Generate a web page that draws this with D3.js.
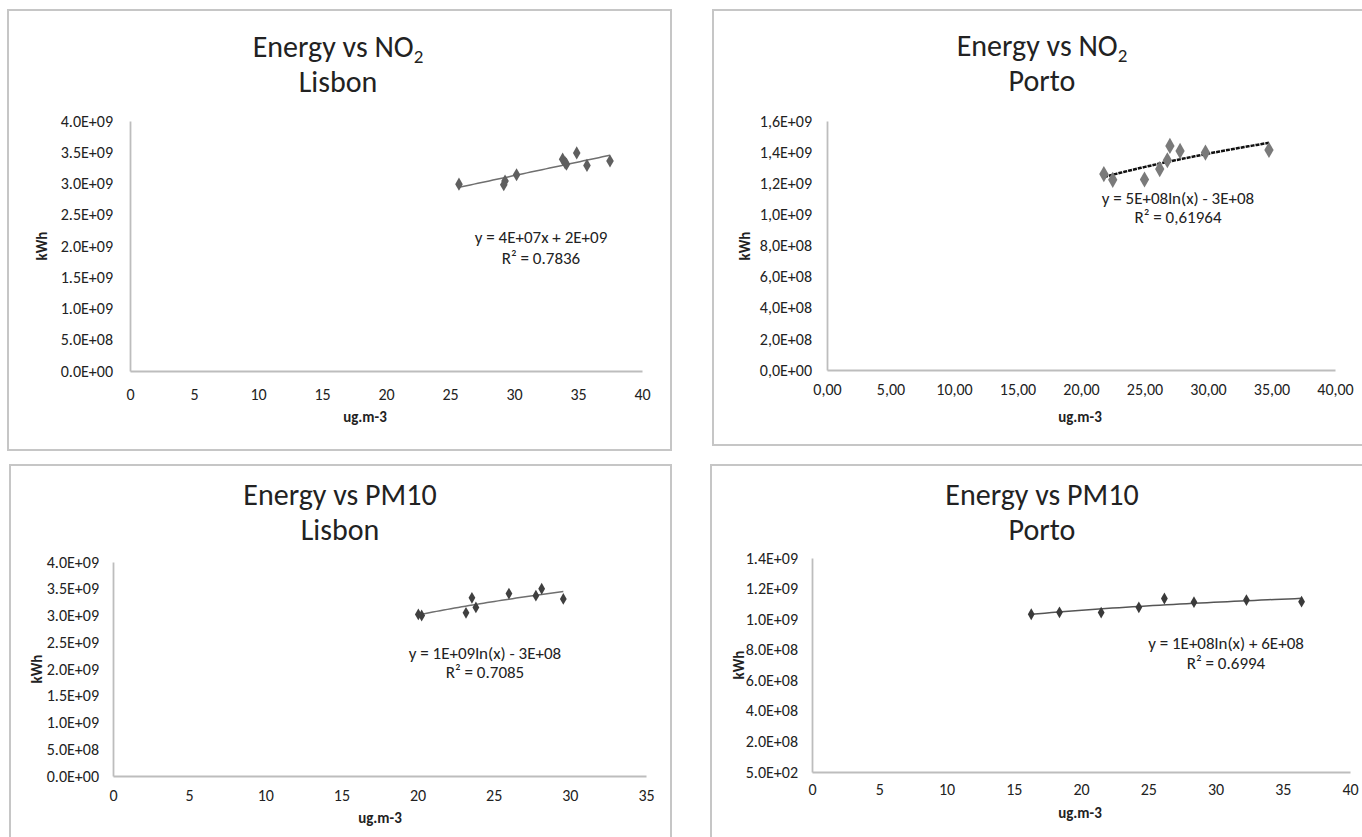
<!DOCTYPE html>
<html>
<head>
<meta charset="utf-8">
<script src="https://cdn.jsdelivr.net/npm/d3@7"></script>
<style>
  body { margin: 0; background: #fff; }
  svg text { font-family: Carlito, "Liberation Sans Narrow", "Open Sans", sans-serif; fill: #222; }
</style>
</head>
<body>
<div id="chart"></div>
<script>
// ---- data ----
// Energy vs NO2, Lisbon
const lisbonNO2X = [25.7, 29.2, 29.3, 30.2, 33.8, 34.0, 34.1, 34.9, 35.7, 37.5];
const lisbonNO2Kwh = [2.99e9, 2.98e9, 3.04e9, 3.14e9, 3.39e9, 3.33e9, 3.31e9, 3.49e9, 3.29e9, 3.36e9];
// Energy vs NO2, Porto
const portoNO2X = [21.8, 22.5, 25.0, 26.2, 26.8, 27.0, 27.8, 29.8, 34.8];
const portoNO2Kwh = [1.259e9, 1.222e9, 1.224e9, 1.291e9, 1.348e9, 1.44e9, 1.408e9, 1.397e9, 1.414e9];
// Energy vs PM10, Lisbon
const lisbonPM10X = [20.05, 20.27, 23.18, 23.57, 23.83, 26.0, 27.77, 28.15, 29.57];
const lisbonPM10Kwh = [3.02e9, 3.0e9, 3.05e9, 3.33e9, 3.15e9, 3.41e9, 3.37e9, 3.5e9, 3.31e9];
// Energy vs PM10, Porto
const portoPM10X = [16.3, 18.4, 21.5, 24.3, 26.2, 28.4, 32.3, 36.4];
const portoPM10Kwh = [1.032e9, 1.045e9, 1.043e9, 1.077e9, 1.135e9, 1.111e9, 1.125e9, 1.114e9];

// tick labels
const yTicksLisbon = [0, 5e8, 1e9, 1.5e9, 2e9, 2.5e9, 3e9, 3.5e9, 4e9];
const yLabelsLisbon = ["0.0E+00", "5.0E+08", "1.0E+09", "1.5E+09", "2.0E+09", "2.5E+09", "3.0E+09", "3.5E+09", "4.0E+09"];
const yTicksPortoNO2 = [0, 2e8, 4e8, 6e8, 8e8, 1e9, 1.2e9, 1.4e9, 1.6e9];
const yLabelsPortoNO2 = ["0,0E+00", "2,0E+08", "4,0E+08", "6,0E+08", "8,0E+08", "1,0E+09", "1,2E+09", "1,4E+09", "1,6E+09"];
const yTicksPortoPM10 = [0, 2e8, 4e8, 6e8, 8e8, 1e9, 1.2e9, 1.4e9];
const yLabelsPortoPM10 = ["5.0E+02", "2.0E+08", "4.0E+08", "6.0E+08", "8.0E+08", "1.0E+09", "1.2E+09", "1.4E+09"];
const xTicks40 = [0, 5, 10, 15, 20, 25, 30, 35, 40];
const xLabelsComma = ["0,00", "5,00", "10,00", "15,00", "20,00", "25,00", "30,00", "35,00", "40,00"];
const xTicks35 = [0, 5, 10, 15, 20, 25, 30, 35];

const svg = d3.select("#chart").append("svg")
    .attr("width", 1362)
    .attr("height", 837);

// least squares fits, the way the spreadsheet trendline does it
function fitLinear(xs, ys) {
    const mx = d3.mean(xs), my = d3.mean(ys);
    let sxy = 0, sxx = 0;
    xs.forEach((x, i) => { sxy += (x - mx) * (ys[i] - my); sxx += (x - mx) * (x - mx); });
    const a = sxy / sxx;
    return x => a * x + (my - a * mx);
}
function fitLog(xs, ys) {
    const f = fitLinear(xs.map(Math.log), ys);
    return x => f(Math.log(x));
}

function drawPanel(p) {
    // frame
    svg.append("rect")
       .attr("x", p.frame[0]).attr("y", p.frame[1])
       .attr("width", p.frame[2]).attr("height", p.frame[3])
       .attr("fill", "none")
       .attr("stroke", "#c6c6c6")
       .attr("stroke-width", 2);

    // title, two lines
    const t1 = svg.append("text")
       .attr("x", p.titleX).attr("y", p.titleY)
       .attr("text-anchor", "middle")
       .style("font-size", "30px");
    t1.append("tspan").text(p.title);
    if (p.sub) {
        t1.append("tspan").attr("dy", 6).style("font-size", "19px").text(p.sub);
    }
    svg.append("text")
       .attr("x", p.titleX).attr("y", p.titleY + 35)
       .attr("text-anchor", "middle")
       .style("font-size", "30px")
       .text(p.city);

    const x = d3.scaleLinear().domain(p.xDomain).range([p.left, p.right]);
    const y = d3.scaleLinear().domain(p.yDomain).range([p.bottom, p.top]);

    const gx = svg.append("g")
       .attr("transform", `translate(0,${p.bottom})`)
       .call(d3.axisBottom(x).tickValues(p.xTicks).tickSize(0).tickPadding(p.xPad)
             .tickFormat((d, i) => p.xLabels[i]));
    const gy = svg.append("g")
       .attr("transform", `translate(${p.left},0)`)
       .call(d3.axisLeft(y).tickValues(p.yTicks).tickSize(0).tickPadding(p.yPad)
             .tickFormat((d, i) => p.yLabels[i]));
    [gx, gy].forEach(g => {
        g.select(".domain").attr("stroke", "#bdbdbd").attr("stroke-width", 1.8);
        g.selectAll("text").style("font-size", "16px").style("font-family", null).attr("fill", "#222");
    });

    // axis titles
    svg.append("text")
       .attr("x", p.xTitle[0]).attr("y", p.xTitle[1])
       .attr("text-anchor", "middle")
       .style("font-size", "15px").style("font-weight", "bold")
       .text("ug.m-3");
    svg.append("text")
       .attr("transform", `translate(${p.yTitle[0]},${p.yTitle[1]}) rotate(-90)`)
       .attr("text-anchor", "middle")
       .style("font-size", "15px").style("font-weight", "bold")
       .text("kWh");

    // trendline
    const fit = p.kind === "log" ? fitLog(p.xs, p.ys) : fitLinear(p.xs, p.ys);
    const x0 = d3.min(p.xs), x1 = d3.max(p.xs);
    const samples = d3.range(0, 41).map(k => x0 + (x1 - x0) * k / 40);
    svg.append("path")
       .datum(samples)
       .attr("fill", "none")
       .attr("stroke", p.lineColor)
       .attr("stroke-width", p.lineWidth)
       .attr("stroke-dasharray", p.dash || null)
       .attr("d", d3.line().x(d => x(d)).y(d => y(fit(d))));

    // points
    svg.append("g").selectAll("path")
       .data(p.xs.map((d, i) => [d, p.ys[i]]))
       .join("path")
       .attr("transform", d => `translate(${x(d[0])},${y(d[1])})`)
       .attr("d", d3.symbol(d3.symbolDiamond, p.markerSize))
       .attr("fill", p.markerColor);

    // equation
    svg.append("text")
       .attr("x", p.eqX).attr("y", p.eqY)
       .attr("text-anchor", "middle")
       .style("font-size", "17px")
       .text(p.eq);
    svg.append("text")
       .attr("x", p.eqX).attr("y", p.eqY + p.eqGap)
       .attr("text-anchor", "middle")
       .style("font-size", "17px")
       .text(p.r2);
}

drawPanel({
    frame: [8, 10, 663, 440],
    title: "Energy vs NO", sub: "2", city: "Lisbon", titleX: 338, titleY: 57,
    xDomain: [0, 40], yDomain: [0, 4e9],
    left: 130, right: 642, top: 121, bottom: 371,
    xTicks: xTicks40, xLabels: xTicks40.map(String), xPad: 18,
    yTicks: yTicksLisbon, yLabels: yLabelsLisbon, yPad: 17,
    xTitle: [365, 422], yTitle: [47, 246],
    xs: lisbonNO2X, ys: lisbonNO2Kwh, kind: "linear",
    lineColor: "#6f6f6f", lineWidth: 1.5,
    markerColor: "#5f5f5f", markerSize: 50,
    eqX: 541, eqY: 243, eqGap: 21, eq: "y = 4E+07x + 2E+09", r2: "R² = 0.7836"
});

drawPanel({
    frame: [713, 10, 680, 435],
    title: "Energy vs NO", sub: "2", city: "Porto", titleX: 1042, titleY: 56,
    xDomain: [0, 40], yDomain: [0, 1.6e9],
    left: 827, right: 1335, top: 121, bottom: 370,
    xTicks: xTicks40, xLabels: xLabelsComma, xPad: 14,
    yTicks: yTicksPortoNO2, yLabels: yLabelsPortoNO2, yPad: 15,
    xTitle: [1080, 422], yTitle: [750, 246],
    xs: portoNO2X, ys: portoNO2Kwh, kind: "log",
    lineColor: "#111", lineWidth: 2.5, dash: "4,1",
    markerColor: "#7a7a7a", markerSize: 75,
    eqX: 1178, eqY: 204, eqGap: 19, eq: "y = 5E+08ln(x) - 3E+08", r2: "R² = 0,61964"
});

drawPanel({
    frame: [10, 465, 661, 400],
    title: "Energy vs PM10", city: "Lisbon", titleX: 340, titleY: 505,
    xDomain: [0, 35], yDomain: [0, 4e9],
    left: 113, right: 646, top: 562, bottom: 776,
    xTicks: xTicks35, xLabels: xTicks35.map(String), xPad: 14,
    yTicks: yTicksLisbon, yLabels: yLabelsLisbon, yPad: 14,
    xTitle: [380, 823], yTitle: [42, 669],
    xs: lisbonPM10X, ys: lisbonPM10Kwh, kind: "log",
    lineColor: "#6f6f6f", lineWidth: 1.5,
    markerColor: "#404040", markerSize: 40,
    eqX: 485, eqY: 659, eqGap: 19, eq: "y = 1E+09ln(x) - 3E+08", r2: "R² = 0.7085"
});

drawPanel({
    frame: [711, 465, 680, 400],
    title: "Energy vs PM10", city: "Porto", titleX: 1042, titleY: 505,
    xDomain: [0, 40], yDomain: [0, 1.4e9],
    left: 812, right: 1350, top: 558, bottom: 772,
    xTicks: xTicks40, xLabels: xTicks40.map(String), xPad: 12,
    yTicks: yTicksPortoPM10, yLabels: yLabelsPortoPM10, yPad: 14,
    xTitle: [1080, 818], yTitle: [744, 665],
    xs: portoPM10X, ys: portoPM10Kwh, kind: "log",
    lineColor: "#555", lineWidth: 1.5,
    markerColor: "#3a3a3a", markerSize: 40,
    eqX: 1226, eqY: 649, eqGap: 20, eq: "y = 1E+08ln(x) + 6E+08", r2: "R² = 0.6994"
});
</script>
</body>
</html>
